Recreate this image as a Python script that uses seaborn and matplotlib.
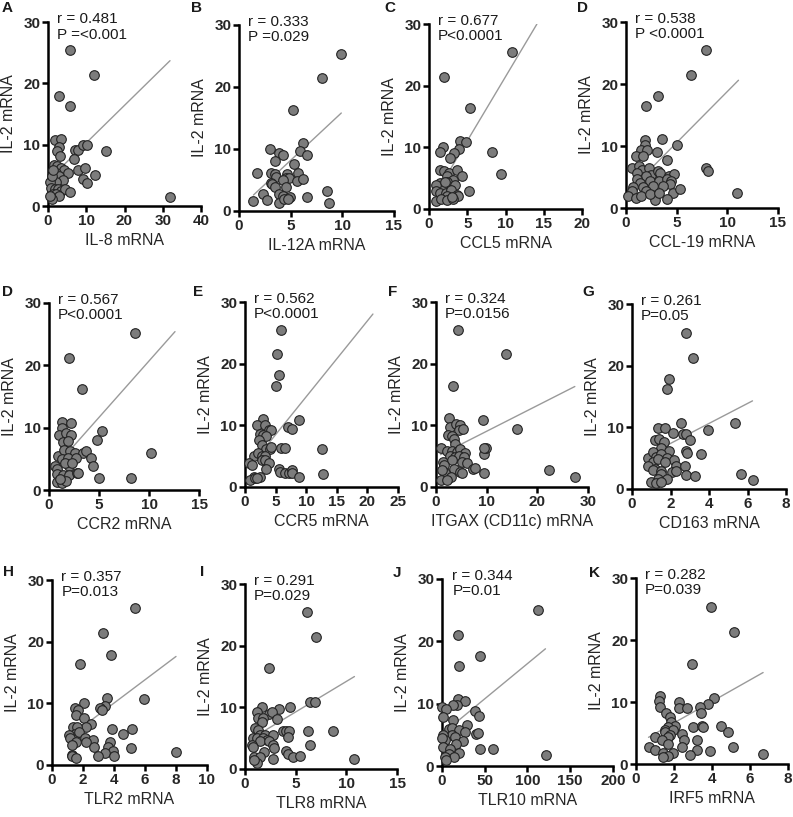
import numpy as np
import seaborn as sns
import matplotlib
matplotlib.use('Agg')
import matplotlib.pyplot as plt

# ---- data (IL-2 mRNA vs each marker) ----
il8 = [5.7, 12.0, 2.9, 5.8, 1.7, 3.5, 3.0, 2.4, 3.2, 7.0, 7.8, 9.1, 10.3, 15.2, 6.7, 1.5, 2.3, 3.5, 4.3, 5.2,
       7.8, 9.6, 12.4, 9.1, 10.3, 2.0, 3.0, 3.9, 2.2, 0.6, 0.9, 1.7, 2.6, 3.5, 4.5, 5.7, 1.3, 2.2, 3.0, 1.0,
       0.4, 31.9, 1.1, 1.3]
il2_il8 = [25.4, 21.3, 17.9, 16.3, 10.8, 10.9, 9.7, 8.9, 8.1, 9.2, 9.2, 9.9, 9.9, 8.9, 7.6, 6.7, 6.5, 6.2, 5.9, 5.4,
           5.9, 6.2, 5.1, 4.4, 3.8, 5.4, 4.9, 4.3, 3.9, 3.9, 3.0, 2.7, 2.8, 2.4, 2.8, 2.3, 1.9, 2.0, 1.6, 1.1,
           1.6, 1.5, 4.9, 5.9]

il12a = [9.9, 8.0, 5.2, 6.2, 5.9, 6.6, 3.0, 3.9, 4.3, 5.3, 3.5, 1.7, 3.1, 3.5, 3.6, 4.6, 4.5, 4.8, 5.7, 5.6,
         6.2, 4.3, 3.1, 3.2, 3.5, 4.5, 2.3, 3.9, 4.3, 4.9, 6.6, 8.5, 1.4, 2.7, 3.9, 4.4, 8.7, 4.7]
il2_il12a = [25.3, 21.4, 16.3, 10.9, 9.6, 9.0, 10.0, 9.3, 9.0, 7.6, 8.0, 6.1, 6.1, 5.9, 5.5, 6.0, 5.3, 5.3, 6.2, 4.8,
             5.1, 5.0, 4.5, 4.3, 3.9, 3.9, 2.8, 2.8, 2.5, 2.3, 2.3, 3.3, 1.6, 1.8, 1.3, 2.0, 1.3, 1.9]

ccl5 = [10.8, 2.0, 5.4, 4.1, 4.8, 1.8, 1.5, 3.9, 3.3, 2.8, 8.3, 9.4, 1.5, 2.0, 2.6, 2.3, 3.6, 4.3, 3.1, 2.3,
        1.4, 1.7, 0.9, 3.4, 0.9, 1.5, 2.2, 2.9, 2.4, 3.6, 3.8, 5.2, 0.9, 1.6, 2.4, 3.2, 3.0, 2.1]
il2_ccl5 = [25.4, 21.4, 16.4, 11.1, 10.8, 10.1, 9.3, 9.8, 9.1, 8.3, 9.3, 5.6, 6.3, 6.1, 5.8, 5.3, 6.3, 5.3, 4.7, 4.3,
            4.2, 3.7, 3.9, 3.9, 3.0, 2.6, 2.6, 3.1, 2.1, 2.2, 2.1, 3.0, 1.3, 1.6, 1.4, 1.6, 1.9, 4.3]

ccl19 = [7.9, 6.4, 3.2, 2.0, 1.9, 3.6, 5.0, 1.9, 1.5, 2.1, 3.1, 1.0, 1.7, 4.0, 7.9, 8.1, 0.6, 1.3, 1.6, 2.3,
         1.1, 2.5, 3.2, 3.4, 4.2, 4.7, 2.0, 1.1, 2.4, 3.3, 4.0, 4.4, 4.3, 1.4, 0.7, 1.7, 2.7, 2.0, 0.6, 0.2,
         1.0, 1.5, 2.9, 4.6, 5.3, 11.0, 2.9, 4.0, 2.4, 3.7, 3.3]
il2_ccl19 = [25.5, 21.5, 18.0, 16.5, 10.9, 11.1, 10.1, 10.1, 9.4, 9.4, 9.1, 8.4, 8.4, 7.8, 6.5, 6.0, 6.5, 6.8, 6.2, 6.5,
             5.6, 5.4, 5.9, 5.6, 5.2, 5.5, 5.1, 4.6, 4.4, 4.3, 4.6, 4.3, 3.8, 4.0, 3.4, 3.4, 3.5, 2.7, 2.7, 2.0,
             1.6, 1.9, 2.0, 2.4, 3.1, 2.5, 1.3, 1.5, 2.2, 3.5, 2.4]

ccr2 = [8.6, 2.0, 3.3, 1.25, 2.2, 1.3, 1.0, 1.7, 2.2, 1.4, 1.9, 4.8, 5.3, 10.2, 0.9, 1.5, 2.1, 2.6, 3.4, 3.7,
        1.25, 1.9, 2.7, 4.2, 0.6, 0.8, 2.0, 4.4, 0.75, 1.35, 2.0, 2.8, 2.9, 5.0, 8.2, 0.75, 1.25, 1.7, 1.08, 1.6,
        2.3]
il2_ccr2 = [25.2, 21.2, 16.2, 10.9, 10.7, 9.9, 8.9, 9.1, 8.9, 7.7, 7.9, 8.0, 9.5, 6.0, 5.4, 6.4, 6.2, 5.9, 6.0, 6.2,
            5.0, 5.1, 5.1, 5.2, 3.9, 3.3, 3.9, 3.8, 2.6, 2.4, 2.4, 2.8, 2.8, 2.0, 2.0, 1.3, 1.1, 1.5, 1.8, 4.3,
            4.3]

ccr5 = [5.9, 5.2, 5.5, 5.0, 3.0, 8.9, 7.0, 7.6, 2.0, 3.2, 3.9, 4.2, 2.4, 3.0, 3.5, 2.3, 2.7, 3.4, 4.1, 4.2,
        5.9, 6.5, 12.5, 1.5, 2.2, 2.7, 3.2, 2.7, 3.2, 3.9, 0.6, 1.2, 3.4, 5.5, 5.8, 6.5, 7.2, 7.6, 7.6, 8.9,
        12.7, 2.4, 1.4, 0.8, 1.6, 2.0]
il2_ccr5 = [25.5, 21.5, 18.1, 16.4, 11.0, 10.8, 9.7, 9.4, 10.1, 10.0, 9.2, 9.3, 8.6, 8.4, 8.3, 7.7, 6.8, 6.1, 6.1, 6.5,
            6.3, 6.3, 6.1, 5.1, 5.5, 5.1, 5.0, 4.3, 4.3, 3.9, 3.9, 3.5, 2.9, 2.9, 2.4, 2.3, 2.3, 2.8, 2.2, 1.6,
            2.1, 1.7, 1.7, 1.1, 1.4, 1.4]

itgax = [4.3, 13.9, 3.3, 9.2, 15.9, 2.5, 2.8, 4.0, 4.8, 4.5, 5.4, 2.3, 3.1, 3.5, 3.8, 0.9, 2.2, 3.1, 4.1, 4.8,
         5.8, 9.4, 9.9, 9.4, 2.8, 3.8, 4.6, 5.6, 1.4, 3.1, 5.1, 6.1, 1.5, 3.5, 7.3, 7.7, 4.8, 5.1, 9.5, 22.3,
         27.5, 1.8, 3.0, 1.0, 2.2, 1.2]
il2_itgax = [25.5, 21.5, 16.4, 10.9, 9.4, 11.2, 9.8, 10.2, 10.1, 9.2, 9.4, 8.4, 8.2, 7.8, 6.9, 6.4, 5.8, 5.9, 5.7, 6.1,
             5.5, 5.4, 6.3, 6.3, 5.1, 4.9, 5.1, 4.9, 4.1, 4.3, 4.1, 3.9, 3.5, 3.0, 3.0, 3.1, 2.4, 2.2, 2.3, 2.7,
             1.7, 2.2, 1.6, 1.2, 1.1, 2.7]

cd163 = [2.83, 3.18, 1.93, 1.84, 2.54, 5.36, 3.93, 1.36, 1.74, 2.14, 2.66, 2.8, 3.0, 1.18, 1.4, 1.67, 1.5, 1.9,
         2.83, 2.87, 3.57, 0.83, 1.1, 1.27, 1.53, 1.84, 2.17, 1.1, 1.36, 1.7, 2.27, 2.75, 0.83, 1.18, 1.1, 1.53,
         2.1, 2.3, 1.53, 2.83, 3.27, 5.65, 6.26, 1.36, 1.8, 1.0, 1.27, 1.5]
il2_cd163 = [25.3, 21.3, 17.8, 16.2, 10.7, 10.7, 9.5, 9.9, 9.9, 9.1, 8.9, 8.9, 8.0, 8.0, 8.1, 7.6, 6.6, 6.1,
             6.1, 5.8, 5.7, 5.1, 6.0, 5.2, 5.6, 5.0, 4.7, 4.4, 4.8, 4.4, 3.8, 3.8, 3.8, 3.3, 3.1, 2.9,
             2.7, 2.9, 2.5, 2.2, 2.1, 2.5, 1.5, 1.6, 1.6, 1.2, 1.0, 1.2]

tlr2 = [5.36, 3.27, 3.8, 1.8, 5.95, 3.57, 3.4, 3.1, 3.2, 2.05, 1.47, 1.7, 1.58, 2.05, 2.49, 2.2, 1.36, 1.62,
        3.85, 5.15, 1.47, 1.73, 1.08, 1.15, 2.12, 4.56, 2.66, 2.18, 1.54, 3.76, 1.32, 3.6, 2.72, 5.08, 3.96, 3.42,
        2.94, 4.0, 8.02, 1.32, 1.26, 1.54]
il2_tlr2 = [25.4, 21.4, 17.9, 16.3, 10.7, 10.8, 9.6, 9.2, 9.0, 10.0, 9.2, 9.0, 8.1, 7.6, 6.6, 6.2, 6.2, 6.1,
            5.8, 5.9, 5.1, 5.4, 4.9, 4.4, 4.4, 5.1, 4.1, 3.8, 3.8, 3.8, 3.2, 2.9, 2.9, 2.8, 2.2, 1.9,
            1.5, 1.5, 2.1, 1.7, 1.4, 1.1]

tlr8 = [6.16, 7.05, 2.32, 6.46, 6.95, 4.4, 1.66, 3.31, 2.38, 2.65, 1.16, 1.32, 1.82, 3.15, 1.72, 0.99, 1.32, 3.74,
        4.07, 4.3, 6.19, 8.71, 1.49, 1.99, 2.75, 0.76, 1.16, 1.75, 2.15, 4.2, 1.49, 2.32, 0.73, 2.75, 6.39, 0.83,
        2.88, 4.07, 4.2, 4.73, 5.46, 1.92, 0.89, 1.49, 2.75, 10.76, 1.16, 0.89]
il2_tlr8 = [25.4, 21.4, 16.4, 10.9, 10.8, 10.0, 10.0, 9.7, 9.0, 9.3, 9.3, 8.2, 8.2, 8.1, 7.7, 6.7, 6.3, 6.1,
            6.1, 6.2, 6.2, 6.2, 5.5, 5.5, 5.5, 5.1, 5.1, 5.1, 4.7, 5.2, 4.5, 4.5, 3.9, 3.9, 3.9, 3.5,
            3.4, 2.9, 2.4, 2.0, 2.1, 2.8, 1.9, 1.9, 1.6, 1.6, 0.9, 1.4]

tlr10 = [112.7, 18.9, 44.0, 19.9, 18.2, 26.8, 17.2, 13.1, 0.3, 4.5, 1.0, 13.1, 38.8, 43.0, 29.6, 7.9, 11.3, 19.9,
         26.8, 39.9, 42.3, 11.3, 15.5, 1.0, 3.4, 0.3, 25.1, 16.5, 1.0, 45.0, 60.1, 9.6, 19.9, 7.9, 13.7, 3.4,
         5.2, 122.0]
il2_tlr10 = [25.1, 21.0, 17.7, 16.0, 10.7, 10.5, 9.8, 9.8, 9.4, 9.1, 7.9, 7.4, 8.9, 8.0, 6.5, 6.0, 6.1, 5.7,
             5.5, 5.1, 5.3, 4.9, 4.7, 4.9, 4.2, 4.5, 4.0, 3.6, 3.1, 2.8, 2.7, 2.8, 2.1, 2.0, 1.4, 1.4,
             0.9, 1.8]

irf5 = [3.95, 5.15, 2.93, 1.24, 1.2, 1.27, 4.12, 3.8, 2.24, 2.27, 2.67, 3.37, 3.41, 1.59, 1.8, 1.85, 2.06, 1.71,
        3.02, 3.46, 3.55, 4.45, 4.85, 1.54, 1.97, 1.54, 1.8, 2.41, 1.71, 0.98, 1.36, 2.5, 3.23, 1.71, 0.66, 2.41,
        5.08, 1.01, 3.2, 3.9, 1.4, 1.94, 2.85, 1.66, 1.4, 6.66]
il2_irf5 = [25.3, 21.3, 16.2, 10.9, 10.1, 9.2, 10.7, 9.6, 10.0, 9.0, 9.0, 9.2, 8.2, 8.2, 7.6, 6.8, 6.2, 5.9,
            5.9, 6.2, 6.0, 6.2, 5.1, 5.5, 5.5, 5.1, 4.7, 4.8, 4.3, 4.3, 3.9, 3.8, 3.9, 3.2, 2.8, 2.8,
            2.8, 2.3, 2.3, 2.1, 1.7, 1.7, 1.5, 1.3, 1.1, 1.6]

xs_all = [il8, il12a, ccl5, ccl19, ccr2, ccr5, itgax, cd163, tlr2, tlr8, tlr10, irf5]
ys_all = [il2_il8, il2_il12a, il2_ccl5, il2_ccl19, il2_ccr2, il2_ccr5, il2_itgax, il2_cd163,
          il2_tlr2, il2_tlr8, il2_tlr10, il2_irf5]

panel_letters = ['A', 'B', 'C', 'D', 'D', 'E', 'F', 'G', 'H', 'I', 'J', 'K']
x_labels = ['IL-8 mRNA', 'IL-12A mRNA', 'CCL5 mRNA', 'CCL-19 mRNA', 'CCR2 mRNA', 'CCR5 mRNA',
            'ITGAX (CD11c) mRNA', 'CD163 mRNA', 'TLR2 mRNA', 'TLR8 mRNA', 'TLR10 mRNA', 'IRF5 mRNA']
r_texts = ['0.481', '0.333', '0.677', '0.538', '0.567', '0.562', '0.324', '0.261', '0.357', '0.291', '0.344', '0.282']
p_texts = ['P =<0.001', 'P =0.029', 'P<0.0001', 'P <0.0001', 'P<0.0001', 'P<0.0001',
           'P=0.0156', 'P=0.05', 'P=0.013', 'P=0.029', 'P=0.01', 'P=0.039']
x_max = [40, 15, 20, 15, 15, 25, 30, 8, 10, 15, 200, 8]
x_step = [10, 5, 5, 5, 5, 5, 10, 2, 2, 5, 50, 2]

# fitted lines as shown in the figure (slope, intercept, x where the line stops)
fit_slope = [0.612, 1.556, 2.08, 1.65, 1.81, 1.23, 0.417, 1.62, 1.89, 0.99, 0.113, 1.733]
fit_icpt = [4.17, 0.40, 0.65, 2.29, 2.60, 2.34, 4.87, 4.15, 2.48, 4.30, 5.13, 3.16]
fit_end = [31.9, 9.9, 14.1, 11.1, 12.6, 20.9, 27.4, 6.26, 8.0, 10.8, 121.0, 6.69]

# ---- layout (pixel boxes: left, right, top, bottom) ----
W, H = 793, 817
boxes = [(48, 201, 22, 206), (239, 394, 25, 211), (429, 582, 24, 209), (626, 778, 22, 208),
         (49, 199, 303, 490), (245, 398, 302, 487), (436, 588, 302, 487), (632, 786, 304, 489),
         (52, 207, 580, 765), (245, 397, 584, 769), (442, 613, 579, 766), (636, 788, 578, 764)]
letter_pos = [(7, 8), (197, 8), (390, 8), (583, 8), (7, 292), (198, 292), (393, 292), (588, 292),
              (8, 572), (202, 572), (397, 573), (595, 573)]

sns.set_style('ticks')
plt.rcParams['font.family'] = ['Liberation Sans', 'DejaVu Sans']
plt.rcParams['text.color'] = '#1a1a1a'

fig = plt.figure(figsize=(W / 100, H / 100), dpi=100)

for i in range(12):
    l, r, t, b = boxes[i]
    ax = fig.add_axes([l / W, 1 - b / H, (r - l) / W, (b - t) / H])
    x = np.array(xs_all[i])
    y = np.array(ys_all[i])

    xl = np.array([x.min(), fit_end[i]])
    ax.plot(xl, fit_slope[i] * xl + fit_icpt[i], color='#9a9a9a', lw=1.0, zorder=2)

    sns.scatterplot(x=x, y=y, ax=ax, s=48, color='#7c7c7c', edgecolor='#222222',
                    linewidth=0.8, zorder=3, clip_on=False, legend=False)

    ax.set_xlim(0, x_max[i])
    ax.set_ylim(0, 30)
    ax.set_xticks(np.arange(0, x_max[i] + 0.1, x_step[i]))
    ax.set_yticks([0, 10, 20, 30])
    sns.despine(ax=ax)
    for s in ['left', 'bottom']:
        ax.spines[s].set_linewidth(1.8)
        ax.spines[s].set_color('black')
    ax.tick_params(axis='both', length=4, width=1.8, pad=1.5, labelsize=11, color='black')
    for lab in ax.get_xticklabels() + ax.get_yticklabels():
        lab.set_fontweight('bold')
    ax.set_xlabel(x_labels[i], fontsize=11.5, labelpad=4)
    ax.set_ylabel('IL-2 mRNA', fontsize=11.5, labelpad=5)
    ax.text(0.06, 1.055, 'r = ' + r_texts[i] + '\n' + p_texts[i], transform=ax.transAxes,
            ha='left', va='top', fontsize=11, linespacing=1.15)

    lx, ly = letter_pos[i]
    fig.text(lx / W, 1 - ly / H, panel_letters[i], ha='center', va='center',
             fontsize=11, fontweight='bold')

fig.savefig('out.png', dpi=100)
